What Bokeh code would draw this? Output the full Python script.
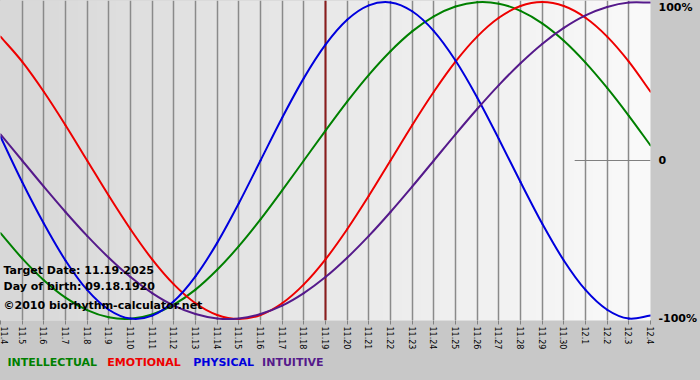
import numpy as np
from bokeh.plotting import figure
from bokeh.layouts import column
from bokeh.models import Range1d, FixedTicker, Label
from bokeh.core.properties import value
from bokeh.embed import file_html
from bokeh.resources import INLINE

# ---- data ----
days = ["11.4", "11.5", "11.6", "11.7", "11.8", "11.9", "11.10", "11.11", "11.12",
        "11.13", "11.14", "11.15", "11.16", "11.17", "11.18", "11.19", "11.20",
        "11.21", "11.22", "11.23", "11.24", "11.25", "11.26", "11.27", "11.28",
        "11.29", "11.30", "12.1", "12.2", "12.3", "12.4"]

intellectual = [-0.458, -0.618, -0.756, -0.866, -0.945, -0.990, -0.999, -0.972,
                -0.910, -0.815, -0.690, -0.541, -0.372, -0.189, 0.000, 0.189,
                0.372, 0.541, 0.690, 0.815, 0.910, 0.972, 0.999, 0.990, 0.945,
                0.866, 0.756, 0.618, 0.458, 0.282, 0.095]
emotional = [0.782, 0.624, 0.434, 0.223, 0.000, -0.223, -0.434, -0.624, -0.782,
             -0.901, -0.975, -1.000, -0.975, -0.901, -0.782, -0.624, -0.434,
             -0.223, 0.000, 0.223, 0.434, 0.624, 0.782, 0.901, 0.975, 1.000,
             0.975, 0.901, 0.782, 0.624, 0.434]
physical = [0.150, -0.136, -0.398, -0.631, -0.817, -0.942, -0.998, -0.979, -0.888,
            -0.731, -0.520, -0.270, 0.000, 0.270, 0.520, 0.731, 0.888, 0.979,
            0.998, 0.942, 0.817, 0.631, 0.398, 0.136, -0.136, -0.398, -0.631,
            -0.817, -0.942, -0.998, -0.979]
intuitive = [0.165, 0.000, -0.165, -0.325, -0.476, -0.614, -0.736, -0.837, -0.916,
             -0.969, -0.997, -0.997, -0.969, -0.916, -0.837, -0.736, -0.614,
             -0.476, -0.325, -0.165, 0.000, 0.165, 0.325, 0.476, 0.614, 0.736,
             0.837, 0.916, 0.969, 0.997, 0.997]

series_names = ["INTELLECTUAL", "EMOTIONAL", "PHYSICAL", "INTUITIVE"]
series_colors = ["#008000", "#ee0000", "#0000dd", "#551a8b"]

target_day = "11.19"
y_tick_labels = ["-100%", "0", "100%"]

BORDER = "#c8c8c8"
FRAME_W = 651

# ---- main figure ----
x = list(range(len(days)))
YMIN, YMAX = -1.01, 1.01

p = figure(width=700, height=352, output_backend="svg", toolbar_location=None,
           x_range=Range1d(0, len(days) - 1), y_range=Range1d(YMIN, YMAX),
           y_axis_location="right",
           min_border_left=0, min_border_top=0, min_border_right=700 - FRAME_W,
           min_border_bottom=30)
p.outline_line_color = None
p.border_fill_color = BORDER
p.background_fill_color = "#e8e8e8"

# horizontal gradient background of the plot area
grad = np.zeros((1, FRAME_W), dtype=np.uint32)
view = grad.view(dtype=np.uint8).reshape((1, FRAME_W, 4))
shade = np.linspace(216, 250, FRAME_W).astype(np.uint8)
view[0, :, 0] = shade
view[0, :, 1] = shade
view[0, :, 2] = shade
view[0, :, 3] = 255
p.image_rgba(image=[grad], x=0, y=YMIN, dw=len(days) - 1, dh=YMAX - YMIN, level="image")

# x axis
p.xaxis.ticker = FixedTicker(ticks=x)
p.xaxis.major_label_overrides = {i: d for i, d in enumerate(days)}
p.xaxis.major_label_orientation = -np.pi / 2
p.xaxis.major_label_text_font = "DejaVu Sans"
p.xaxis.major_label_text_font_size = "8px"
p.xaxis.major_label_text_color = "#000000"
p.xaxis.major_label_standoff = 2
p.xaxis.major_tick_out = 4
p.xaxis.major_tick_in = 0
p.xaxis.major_tick_line_color = "#808080"
p.xaxis.minor_tick_line_color = None
p.xaxis.axis_line_color = None

p.xgrid.ticker = FixedTicker(ticks=x)
p.xgrid.grid_line_color = "#8a8a8a"
p.xgrid.grid_line_width = 1.5
p.xgrid.level = "underlay"
p.ygrid.grid_line_color = None

# y axis (right)
ytick_pos = [-1, 0, 0.965]
p.yaxis.ticker = FixedTicker(ticks=ytick_pos)
p.yaxis.major_label_overrides = {t: s for t, s in zip(ytick_pos, y_tick_labels)}
p.yaxis.major_label_text_font = "DejaVu Sans"
p.yaxis.major_label_text_font_style = "bold"
p.yaxis.major_label_text_font_size = "11px"
p.yaxis.major_label_text_color = "#000000"
p.yaxis.major_label_standoff = 8
p.yaxis.major_tick_out = 0
p.yaxis.major_tick_in = 0
p.yaxis.minor_tick_line_color = None
p.yaxis.axis_line_color = None

# zero line (right part) and target-day line
p.segment(x0=26.5, y0=0, x1=len(days) - 1, y1=0, line_color="#808080", line_width=1)
tx = days.index(target_day)
p.segment(x0=tx, y0=YMIN, x1=tx, y1=YMAX, line_color="#8b1c1c", line_width=2)


# curves: smooth (Catmull-Rom style Bezier) through the daily values
def smooth_curve(xs, ys, color):
    n = len(xs)
    xs = np.asarray(xs, float)
    ys = np.asarray(ys, float)
    xp = np.concatenate([[2 * xs[0] - xs[1]], xs, [2 * xs[-1] - xs[-2]]])
    yp = np.concatenate([[2 * ys[0] - ys[1]], ys, [2 * ys[-1] - ys[-2]]])
    i = np.arange(1, n)
    return p.bezier(x0=xp[i], y0=yp[i], x1=xp[i + 1], y1=yp[i + 1],
                    cx0=xp[i] + (xp[i + 1] - xp[i - 1]) / 6.0,
                    cy0=yp[i] + (yp[i + 1] - yp[i - 1]) / 6.0,
                    cx1=xp[i + 1] - (xp[i + 2] - xp[i]) / 6.0,
                    cy1=yp[i + 1] - (yp[i + 2] - yp[i]) / 6.0,
                    line_color=color, line_width=2, line_cap="round")


for vals, col in zip([intellectual, emotional, physical, intuitive], series_colors):
    smooth_curve(x, vals, col)

# info texts inside the plot
PX = (len(days) - 1) / float(FRAME_W)   # data units per pixel (x)
PY = (YMAX - YMIN) / 322.0              # data units per pixel (y)


def ypx(py):
    return YMAX - py * PY


info = [("Target Date: 11.19.2025", 272), ("Day of birth: 09.18.1920", 288),
        ("\u00a92010 biorhythm-calculator.net", 307)]
for txt, py in info:
    p.add_layout(Label(x=3 * PX, y=ypx(py), text=txt, text_font="DejaVu Sans",
                       text_font_style="bold", text_font_size="11px",
                       text_color="#000000", text_baseline="middle",
                       text_align="left"))

# ---- legend row (frame aligned with the main plot's frame) ----
lg = figure(width=700, height=28, output_backend="svg", toolbar_location=None,
            x_range=Range1d(0, FRAME_W), y_range=Range1d(0, 28),
            x_axis_location=None, y_axis_location=None,
            min_border=0, min_border_left=0, min_border_right=700 - FRAME_W,
            min_border_top=0, min_border_bottom=0)
lg.grid.visible = False
lg.outline_line_color = None
lg.background_fill_color = BORDER
lg.border_fill_color = BORDER
legend_x = [7, 107, 193, 262]
lg.text(x=legend_x, y=[18] * len(series_names), text=series_names,
        text_color=series_colors, text_font=value("DejaVu Sans"),
        text_font_style="bold", text_font_size="11px",
        text_baseline="middle", text_align="left")

layout = column(p, lg, spacing=0)

html = file_html(layout, INLINE)
html = html.replace("<head>", "<head><style>html,body{margin:0;padding:0;overflow:hidden;background:"
                    + BORDER + ";}</style>", 1)
open("out.html", "w").write(html)
